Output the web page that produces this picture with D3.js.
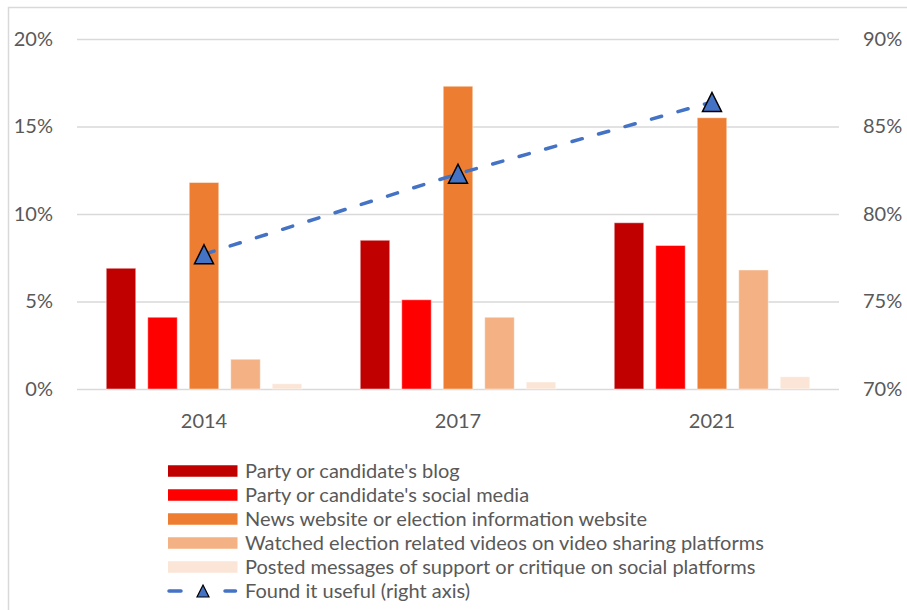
<!DOCTYPE html>
<html>
<head>
<meta charset="utf-8">
<script src="https://cdn.jsdelivr.net/npm/d3@7"></script>
<style>
  html, body { margin: 0; padding: 0; background: #fff; }
  svg { display: block; font-family: "Lato", "Open Sans", sans-serif; }
</style>
</head>
<body>
<svg id="chart" width="907" height="610"></svg>
<script>
// Survey years on the category axis
const years = ["2014", "2017", "2021"];

// Share of respondents per online activity (left axis, %)
const partyBlog = [6.9, 8.5, 9.5];
const partySocial = [4.1, 5.1, 8.2];
const newsSites = [11.8, 17.3, 15.5];
const videoPlatforms = [1.7, 4.1, 6.8];
const postedMessages = [0.3, 0.4, 0.7];

// Share who found it useful (right axis, %)
const foundUseful = [77.7, 82.3, 86.4];

const seriesNames = [
  "Party or candidate's blog",
  "Party or candidate's social media",
  "News website or election information website",
  "Watched election related videos on video sharing platforms",
  "Posted messages of support or critique on social platforms"
];
const lineName = "Found it useful (right axis)";

const leftTicks = [0, 5, 10, 15, 20];
const rightTicks = [70, 75, 80, 85, 90];

const seriesValues = [partyBlog, partySocial, newsSites, videoPlatforms, postedMessages];
const seriesColors = ["#C00000", "#FF0000", "#ED7D31", "#F4B183", "#FBE5D6"];
const lineColor = "#4472C4";
const textColor = "#595959";
const gridColor = "#D9D9D9";

const svg = d3.select("#chart");

// Chart frame
svg.append("rect")
  .attr("x", 8.5).attr("y", 7.5)
  .attr("width", 920).attr("height", 620)
  .attr("fill", "none").attr("stroke", gridColor).attr("stroke-width", 1.5);

const plot = { left: 77, right: 839, top: 39, bottom: 389 };

const x0 = d3.scaleBand().domain(years).range([plot.left, plot.right]).padding(0);
const groupWidth = 195.5;
const x1 = d3.scaleBand()
  .domain(d3.range(seriesNames.length))
  .range([(x0.step() - groupWidth) / 2, (x0.step() + groupWidth) / 2])
  .paddingInner(12 / 41.5).paddingOuter(0);

const yL = d3.scaleLinear().domain([0, 20]).range([plot.bottom, plot.top]);
const yR = d3.scaleLinear().domain([70, 90]).range([plot.bottom, plot.top]);

// Left axis with gridlines
const leftAxis = svg.append("g")
  .attr("transform", `translate(${plot.left},0)`)
  .call(d3.axisLeft(yL).tickValues(leftTicks)
    .tickSize(-(plot.right - plot.left)).tickPadding(24)
    .tickFormat(d => d + "%"));
leftAxis.select(".domain").remove();
leftAxis.selectAll(".tick line").attr("stroke", gridColor).attr("stroke-width", 1.3);
leftAxis.selectAll(".tick text")
  .attr("fill", textColor).style("font-size", "20px").style("font-family", "Lato, sans-serif");

// Right axis labels
const rightAxis = svg.append("g")
  .attr("transform", `translate(${plot.right},0)`)
  .call(d3.axisRight(yR).tickValues(rightTicks)
    .tickSize(0).tickPadding(24)
    .tickFormat(d => d + "%"));
rightAxis.select(".domain").remove();
rightAxis.selectAll(".tick text")
  .attr("fill", textColor).style("font-size", "20px").style("font-family", "Lato, sans-serif");

// Category labels
svg.append("g").selectAll("text")
  .data(years)
  .join("text")
  .attr("x", d => x0(d) + x0.bandwidth() / 2)
  .attr("y", 428)
  .attr("text-anchor", "middle")
  .attr("fill", textColor)
  .style("font-size", "20px")
  .text(d => d);

// Grouped bars
const groups = svg.append("g").selectAll("g")
  .data(years)
  .join("g")
  .attr("transform", d => `translate(${x0(d)},0)`);

groups.selectAll("rect")
  .data((d, i) => seriesValues.map((vals, s) => ({ s, v: vals[i] })))
  .join("rect")
  .attr("x", d => x1(d.s))
  .attr("width", x1.bandwidth())
  .attr("y", d => yL(d.v))
  .attr("height", d => yL(0) - yL(d.v))
  .attr("fill", d => seriesColors[d.s])
  .attr("stroke", "#fff").attr("stroke-opacity", 0.45).attr("stroke-width", 1);

// Triangle marker centred on its bounding box
const triangleBox = {
  draw(context, size) {
    const w = Math.sqrt(size);
    const h = w;
    context.moveTo(0, -h / 2);
    context.lineTo(w / 2, h / 2);
    context.lineTo(-w / 2, h / 2);
    context.closePath();
  }
};

// Dashed line on the right axis
const linePts = years.map((y, i) => [x0(y) + x0.bandwidth() / 2, yR(foundUseful[i])]);
svg.append("path")
  .datum(linePts)
  .attr("d", d3.line())
  .attr("fill", "none")
  .attr("stroke", lineColor)
  .attr("stroke-width", 3.5)
  .attr("stroke-linecap", "round")
  .attr("stroke-dasharray", "10.5 17");

svg.append("g").selectAll("path")
  .data(linePts)
  .join("path")
  .attr("transform", d => `translate(${d[0]},${d[1]})`)
  .attr("d", d3.symbol().type(triangleBox).size(19 * 19))
  .attr("fill", lineColor)
  .attr("stroke", "#000")
  .attr("stroke-width", 1.5)
  .attr("stroke-linejoin", "miter");

// Legend
const legend = svg.append("g");
const rowY = i => 471 + i * 24;
const swatchX = 168, swatchW = 69.5, textX = 245;

seriesNames.forEach((name, i) => {
  legend.append("rect")
    .attr("x", swatchX).attr("y", rowY(i) - 5.75)
    .attr("width", swatchW).attr("height", 11.5)
    .attr("fill", seriesColors[i]);
  legend.append("text")
    .attr("x", textX).attr("y", rowY(i) + 6.8)
    .attr("fill", textColor)
    .style("font-size", "20px")
    .text(name);
});

const li = seriesNames.length;
legend.append("line")
  .attr("x1", 169).attr("x2", 235.5)
  .attr("y1", rowY(li)).attr("y2", rowY(li))
  .attr("stroke", lineColor).attr("stroke-width", 3.5)
  .attr("stroke-linecap", "round")
  .attr("stroke-dasharray", "12 44");
legend.append("path")
  .attr("transform", `translate(203,${rowY(li)})`)
  .attr("d", d3.symbol().type(triangleBox).size(12 * 12))
  .attr("fill", lineColor).attr("stroke", "#000").attr("stroke-width", 1.2);
legend.append("text")
  .attr("x", textX).attr("y", rowY(li) + 6.8)
  .attr("fill", textColor)
  .style("font-size", "20px")
  .text(lineName);
</script>
</body>
</html>
